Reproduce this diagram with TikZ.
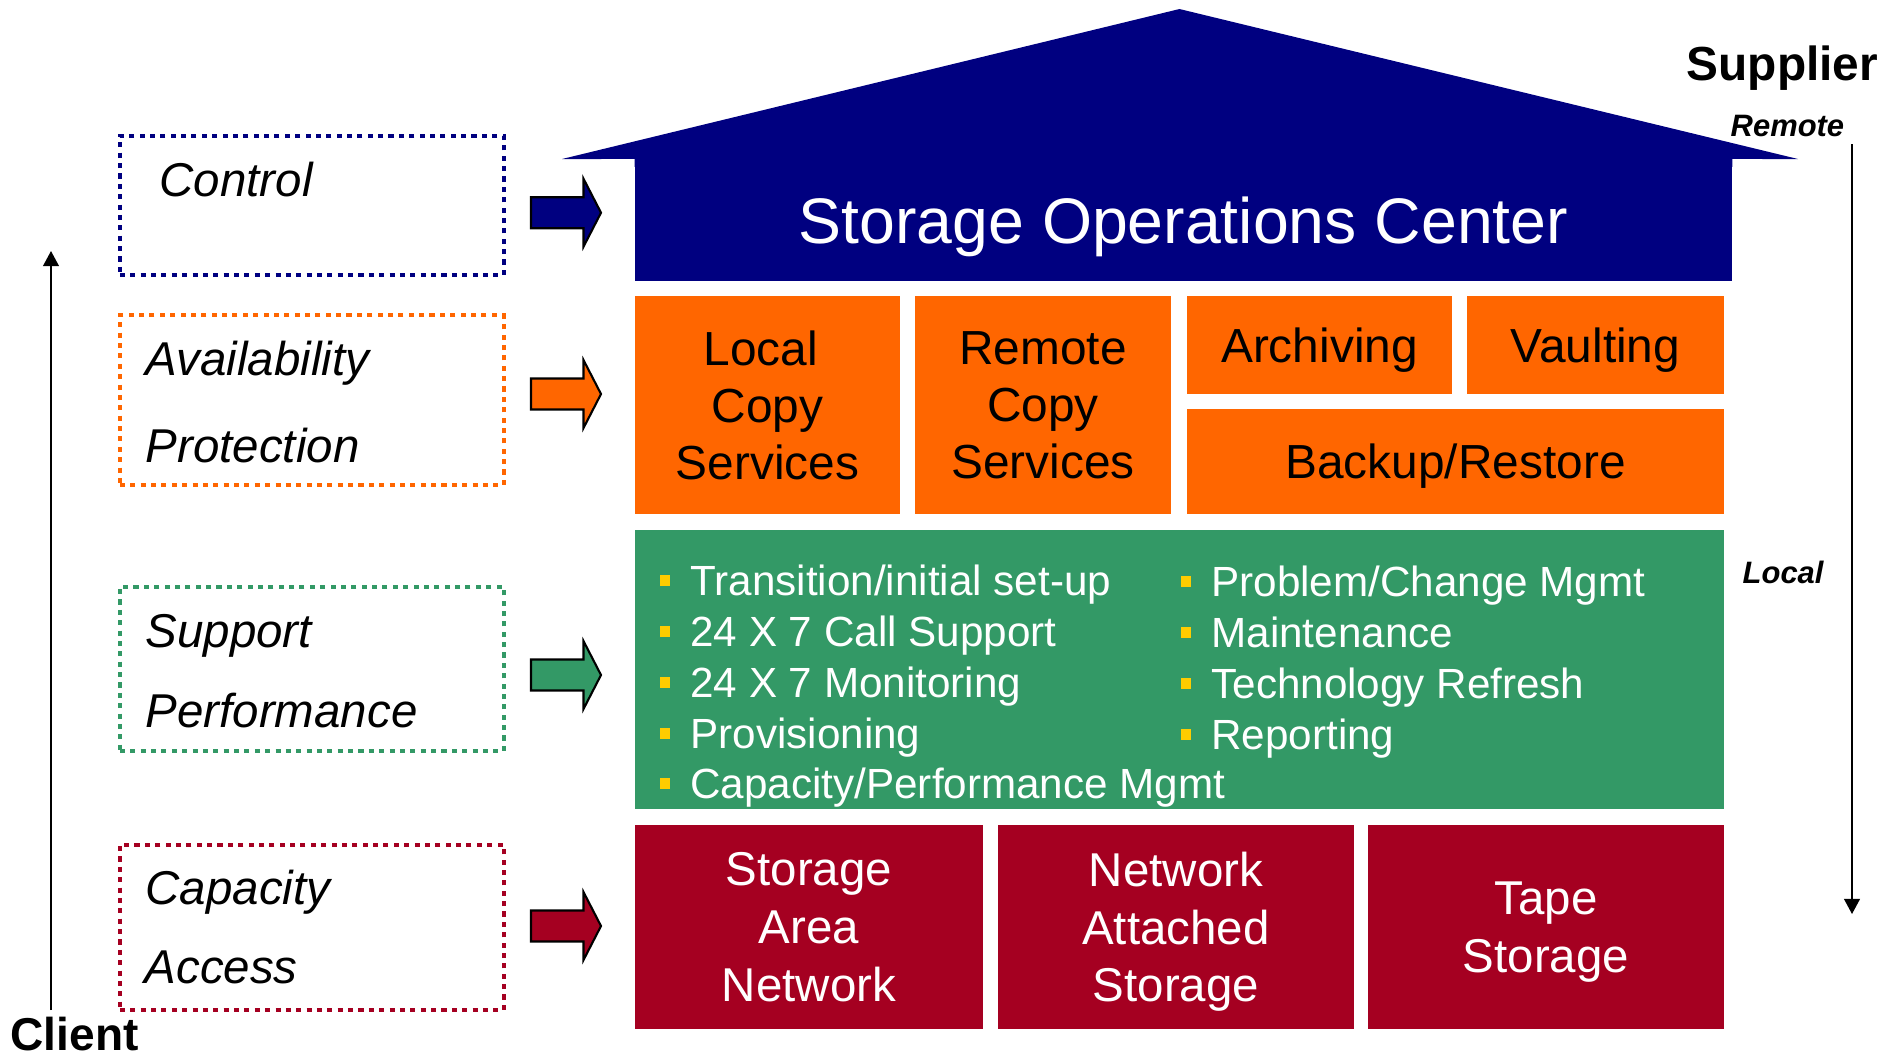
\documentclass[tikz,border=0pt]{standalone}
\usepackage{fontspec}
\setmainfont{Liberation Sans}
\usetikzlibrary{arrows.meta}

\definecolor{socnavy}{HTML}{000080}
\definecolor{protorange}{HTML}{FF6600}
\definecolor{suppgreen}{HTML}{339966}
\definecolor{accred}{HTML}{A50021}
\definecolor{bulletyellow}{HTML}{FFCC00}

% small yellow square bullet
\newcommand\sqbul{\raisebox{2.65pt}{\textcolor{bulletyellow}{\rule{2.95pt}{2.95pt}}}\hspace{5.8pt}}

\begin{document}
\begin{tikzpicture}[x=0.01cm,y=-0.01cm,
  block/.style={inner sep=0pt, outer sep=0pt, align=center},
  oneline/.style={text depth=0pt},
  orangebox/.style={block, fill=protorange, text=black, font=\fontsize{13.6}{16.2}\selectfont},
  redbox/.style={block, fill=accred, text=white, font=\fontsize{13.5}{16.4}\selectfont},
  dotbox/.style={inner sep=0pt, outer sep=0pt, line width=1.1pt, dash pattern=on 1.45pt off 1.5pt,
                 minimum width=3.835cm},
  lbl/.style={inner sep=0pt, anchor=base west, font=\itshape\fontsize{13.5}{16}\selectfont},
  item/.style={inner sep=0pt, anchor=base west, text=white, font=\fontsize{12}{14}\selectfont},
  axis/.style={line width=0.45pt, -{Triangle[width=4.5pt,length=4.3pt]}},
  blockarrow/.pic={\path[pic actions] (0,-15.5) -- (52.5,-15.5) -- (52.5,-34) -- (70,0)
                   -- (52.5,34) -- (52.5,15.5) -- (0,15.5) -- cycle;}
]
\useasboundingbox (0,0) rectangle (1896,1056);

% ---- house: roof and operations center
\node[block, oneline, fill=socnavy, text=white, minimum width=10.97cm, minimum height=1.215cm,
      font=\fontsize{18.3}{22}\selectfont] (soc) at (1183.5,219.75) {Storage Operations Center};
\fill[socnavy] (562,159) -- (1179.5,9) -- (1798,159) -- (soc.north east) -- ++(0,8)
      -| (soc.north west) -- cycle;

% ---- protection layer
\node[orangebox, minimum width=2.65cm, minimum height=2.18cm] (lcs) at (767.5,405)
      {Local\hspace*{3.8pt}\\Copy\hspace*{3.8pt}\\Services};
\node[orangebox, minimum width=2.56cm, minimum height=2.18cm] (rcs) at (1043,405) {Remote\\Copy\\Services};
\node[orangebox, oneline, minimum width=2.65cm, minimum height=0.98cm] (arch) at (1319.5,345) {Archiving};
\node[orangebox, oneline, minimum width=2.57cm, minimum height=0.98cm] (vault) at (1595.5,345) {Vaulting};
\node[orangebox, oneline, minimum width=5.37cm, minimum height=1.05cm] (backup) at (1455.5,461.5) {Backup/Restore};

% ---- support layer
\node[block, fill=suppgreen, minimum width=10.89cm, minimum height=2.79cm] (supp) at (1179.5,669.5) {};
\node[item] (i1) at (659,595) {\sqbul Transition/initial set-up};
\node[item] (i2) at (659,646) {\sqbul 24 X 7 Call Support};
\node[item] (i3) at (659,697) {\sqbul 24 X 7 Monitoring};
\node[item] (i4) at (659,748) {\sqbul Provisioning};
\node[item] (i5) at (659,798) {\sqbul Capacity/Performance Mgmt};
\node[item] (j1) at (1180,596) {\sqbul Problem/Change Mgmt};
\node[item] (j2) at (1180,647) {\sqbul Maintenance};
\node[item] (j3) at (1180,698) {\sqbul Technology Refresh};
\node[item] (j4) at (1180,749) {\sqbul Reporting};

% ---- access layer
\node[redbox, minimum width=3.48cm, minimum height=2.04cm] (san) at (809,927) {Storage\\Area\\Network};
\node[redbox, minimum width=3.56cm, minimum height=2.04cm] (nas) at (1176,927) {Network\\Attached\\\smash{Storage}};
\node[redbox, minimum width=3.56cm, minimum height=2.04cm] (tape) at (1546,927) {Tape\\\smash{Storage}};

% ---- dotted category frames and their labels
\node[dotbox, draw=socnavy, minimum height=1.39cm] (fctrl) at (311.75,205.5) {};
\node[dotbox, draw=protorange, minimum height=1.696cm] (favail) at (311.75,400.2) {};
\node[dotbox, draw=suppgreen, minimum height=1.64cm] (fsupp) at (311.75,669) {};
\node[dotbox, draw=accred, minimum height=1.65cm] (fcap) at (311.75,927.5) {};

\node[lbl] (lctrl) at (159,196.4) {Control};
\node[lbl] (lavail) at (145,375) {Availability};
\node[lbl] (lprot) at (145,462.5) {Protection};
\node[lbl] (lsupp) at (145,647) {Support};
\node[lbl] (lperf) at (145,727) {Performance};
\node[lbl] (lcap) at (145,904) {Capacity};
\node[lbl] (lacc) at (144,983) {Access};

% ---- block arrows into the house
\pic[fill=socnavy, draw=black, line width=0.6pt] at (531,212.7) {blockarrow};
\pic[fill=protorange, draw=black, line width=0.6pt] at (531,394) {blockarrow};
\pic[fill=suppgreen, draw=black, line width=0.6pt] at (531,675) {blockarrow};
\pic[fill=accred, draw=black, line width=0.6pt] at (531,926) {blockarrow};

% ---- client / supplier axes
\node[inner sep=0pt, anchor=base west, font=\bfseries\fontsize{13.1}{16}\selectfont] (client) at (10,1050.5) {Client};
\node[inner sep=0pt, anchor=base west, font=\bfseries\fontsize{13.6}{16}\selectfont] (supplier) at (1686,80.4) {Supplier};
\node[inner sep=0pt, anchor=base west, font=\bfseries\itshape\fontsize{8.8}{10}\selectfont] (remote) at (1730,136.6) {Remote};
\node[inner sep=0pt, anchor=base west, font=\bfseries\itshape\fontsize{8.8}{10}\selectfont] (local) at (1742,583.6) {Local};

\coordinate (clientfoot) at (51,1010);
\coordinate (clienttop) at (51,251);
\coordinate (supptop) at (1852,144);
\coordinate (suppfoot) at (1852,914);
\draw[axis] (clientfoot) -- (clienttop);
\draw[axis] (supptop) -- (suppfoot);
\end{tikzpicture}
\end{document}
